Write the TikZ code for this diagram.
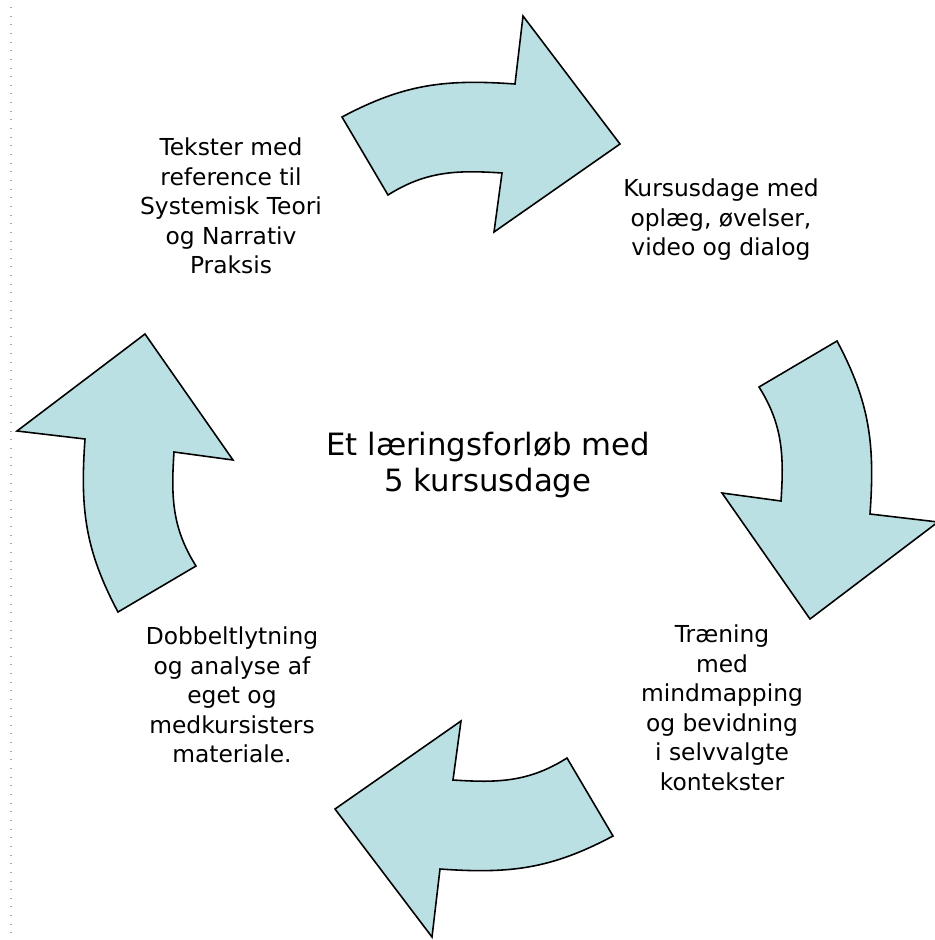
\documentclass[tikz,border=0pt]{standalone}
\usepackage{fontspec}
\setmainfont{DejaVu Sans}
\definecolor{arrowblue}{RGB}{186,224,227}

\begin{document}
\begin{tikzpicture}[x=0.02cm, y=-0.02cm,
    txt/.style={align=center, inner sep=0pt, font=\fontsize{13.3}{16.8}\selectfont},
    midtxt/.style={align=center, inner sep=0pt, font=\fontsize{17.5}{20.6}\selectfont},
    bluearrow/.style={draw=black, fill=arrowblue, line width=0.9pt, line join=miter},
    frameline/.style={draw=gray!70, line width=0.6pt, dash pattern=on 0.02cm off 0.153cm}
]
    \useasboundingbox (0,0) rectangle (934,940);
    \draw[frameline] (11,7) -- (11,938);

    % four curved arrows, each a quarter turn on from the last
    \foreach \ang in {0,-90,-180,-270}
        \draw[bluearrow, rotate around={\ang:(477.5,476.5)}]
            (342,117) .. controls (404,84) and (445,79) .. (515,84)
            -- (523,16) -- (620,144) -- (494,232) -- (502,173)
            .. controls (457,170) and (426,171) .. (388,195) -- cycle;

    \node[txt] (tekster) at (231,206) {Tekster med\\reference til\\Systemisk Teori\\og Narrativ\\Praksis};
    \node[txt] (kursus) at (721,220) {Kursusdage med\\oplæg, øvelser,\\video og dialog};
    \node[txt] (traening) at (722,708) {Træning\\med\\mindmapping\\og bevidning\\i selvvalgte\\kontekster};
    \node[txt] (dobbelt) at (232,695) {Dobbeltlytning\\og analyse af\\eget og\\medkursisters\\materiale.};
    \node[midtxt] (forloeb) at (488,465) {Et læringsforløb med\\5 kursusdage};
\end{tikzpicture}
\end{document}
